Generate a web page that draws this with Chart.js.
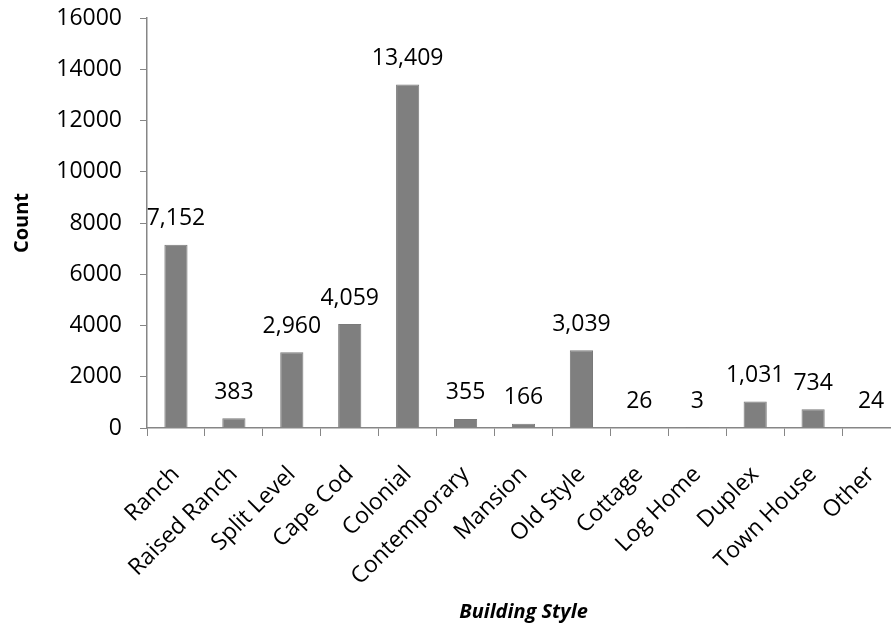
<!DOCTYPE html>
<html>
<head>
<meta charset="utf-8">
<script src="https://cdn.jsdelivr.net/npm/chart.js@4/dist/chart.umd.min.js"></script>
<style>
  html, body { margin: 0; padding: 0; background: #fff; overflow: hidden; }
  #wrap { width: 900px; height: 642px; }
</style>
</head>
<body>
<div id="wrap"><canvas id="styles" width="900" height="642"></canvas></div>
<script>
"use strict";
const styleNames = ['Ranch', 'Raised Ranch', 'Split Level', 'Cape Cod', 'Colonial', 'Contemporary',
    'Mansion', 'Old Style', 'Cottage', 'Log Home', 'Duplex', 'Town House', 'Other'];
const styleCounts = [7152, 383, 2960, 4059, 13409, 355, 166, 3039, 26, 3, 1031, 734, 24];
const countTicks = [0, 2000, 4000, 6000, 8000, 10000, 12000, 14000, 16000];

const FONT = "'Open Sans', 'Liberation Sans', sans-serif";
const AXIS_GRAY = '#868686';

// value labels sitting above each bar
const barValues = {
    id: 'barValues',
    afterDatasetsDraw(chart) {
        const ctx = chart.ctx;
        const meta = chart.getDatasetMeta(0);
        ctx.save();
        ctx.font = '23px ' + FONT;
        ctx.fillStyle = '#000';
        ctx.textAlign = 'center';
        ctx.textBaseline = 'middle';
        meta.data.forEach((bar, i) => {
            ctx.fillText(styleCounts[i].toLocaleString('en-US'), bar.x, bar.y - 26);
        });
        ctx.restore();
    }
};

const chart = new Chart(document.getElementById('styles'), {
    type: 'bar',
    data: {
        labels: styleNames,
        datasets: [{
            data: styleCounts,
            backgroundColor: '#7f7f7f',
            borderColor: '#7a7a7a',
            borderWidth: 1,
            barPercentage: 0.4,
            categoryPercentage: 1.0
        }]
    },
    options: {
        responsive: false,
        animation: false,
        devicePixelRatio: 1,
        layout: { padding: { top: 18, right: 0, bottom: 0, left: 0 } },
        plugins: {
            legend: { display: false },
            tooltip: { enabled: false }
        },
        scales: {
            x: {
                grid: {
                    display: true,
                    offset: true,
                    drawOnChartArea: false,
                    drawTicks: true,
                    tickLength: 8,
                    color: AXIS_GRAY
                },
                border: { display: true, color: AXIS_GRAY, width: 1.5 },
                ticks: {
                    minRotation: 45,
                    maxRotation: 45,
                    autoSkip: false,
                    padding: 25,
                    color: '#000',
                    font: { family: FONT, size: 23 }
                },
                title: {
                    display: true,
                    text: 'Building Style',
                    color: '#000',
                    font: { family: FONT, size: 20, weight: 'bold', style: 'italic' },
                    padding: { top: 0, bottom: 18 }
                },
                afterFit(scale) {
                    scale.height = 214;
                    scale.paddingLeft = 0;
                    scale.paddingRight = 0;
                }
            },
            y: {
                min: 0,
                max: 16000,
                grid: {
                    display: true,
                    drawOnChartArea: false,
                    drawTicks: true,
                    tickLength: 7,
                    color: AXIS_GRAY
                },
                border: { display: true, color: AXIS_GRAY, width: 1.5 },
                afterBuildTicks(scale) {
                    scale.ticks = countTicks.map(v => ({ value: v }));
                },
                ticks: {
                    padding: 18,
                    color: '#000',
                    font: { family: FONT, size: 23 },
                    callback: v => String(v)
                },
                title: {
                    display: true,
                    text: 'Count',
                    color: '#000',
                    font: { family: FONT, size: 20, weight: 'bold' },
                    padding: { top: 10, bottom: 0 }
                },
                afterFit(scale) {
                    scale.width = 147;
                    scale.paddingTop = 0;
                    scale.paddingBottom = 0;
                }
            }
        }
    },
    plugins: [barValues]
});
</script>
</body>
</html>
